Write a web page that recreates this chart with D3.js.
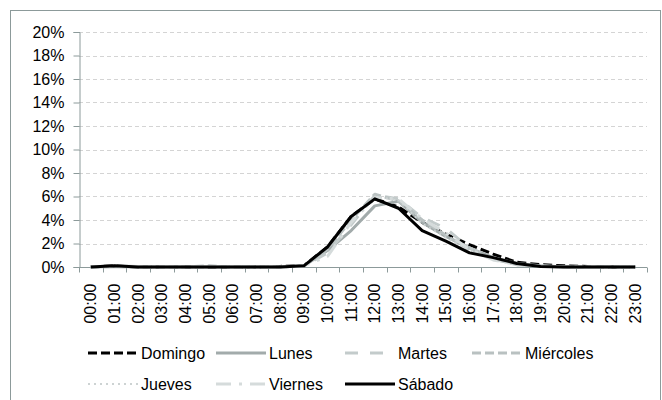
<!DOCTYPE html>
<html>
<head>
<meta charset="utf-8">
<script src="https://cdn.jsdelivr.net/npm/d3@7"></script>
<style>
  html, body { margin: 0; padding: 0; background: #fff; }
  svg { display: block; font-family: "Liberation Sans", Arial, sans-serif; }
</style>
</head>
<body>
<svg id="chart" width="662" height="400"></svg>
<script>
// Hourly share of activity per weekday
const hours = ["00:00","01:00","02:00","03:00","04:00","05:00","06:00","07:00","08:00","09:00","10:00","11:00",
               "12:00","13:00","14:00","15:00","16:00","17:00","18:00","19:00","20:00","21:00","22:00","23:00"];
const yTicks = [0, 0.02, 0.04, 0.06, 0.08, 0.10, 0.12, 0.14, 0.16, 0.18, 0.20];

const domingo   = [0,0.001,0,0,0,0,0,0,0.0005,0.001,0.017,0.043,0.058,0.051,0.038,0.028,0.019,0.011,0.004,0.002,0.001,0.0005,0,0];
const lunes     = [0,0.0005,0,0,0,0,0,0,0,0.001,0.014,0.031,0.052,0.056,0.038,0.026,0.016,0.008,0.003,0.001,0,0,0,0];
const martes    = [0,0.001,0,0,0,0,0.0005,0,0,0.001,0.012,0.036,0.061,0.058,0.042,0.033,0.016,0.007,0.002,0.001,0,0,0,0];
const miercoles = [0,0.0005,0,0,0,0.001,0,0,0,0.001,0.015,0.040,0.062,0.056,0.040,0.027,0.015,0.007,0.002,0.0005,0,0,0.0005,0];
const jueves    = [0,0.0005,0,0,0,0,0,0.0005,0,0.001,0.016,0.041,0.060,0.057,0.037,0.025,0.014,0.006,0.002,0.0005,0,0,0,0];
const viernes   = [0,0.001,0.0005,0,0,0,0,0,0,0.001,0.009,0.038,0.059,0.058,0.041,0.029,0.015,0.006,0.002,0.001,0,0,0,0];
const sabado    = [0,0.001,0,0,0,0,0,0,0,0.001,0.017,0.043,0.058,0.050,0.031,0.022,0.012,0.008,0.003,0.0005,0,0,0,0];

const seriesNames = ["Domingo","Lunes","Martes","Miércoles","Jueves","Viernes","Sábado"];
const seriesData  = [domingo, lunes, martes, miercoles, jueves, viernes, sabado];
const seriesStyle = [
  { color: "#000000", width: 3,   dash: "9,4" },
  { color: "#a2abab", width: 3,   dash: null },
  { color: "#c3cbcb", width: 3,   dash: "13,12" },
  { color: "#b9c1c1", width: 3,   dash: "9,4" },
  { color: "#cdd3d3", width: 2,   dash: "2,4" },
  { color: "#d5dbdb", width: 3,   dash: "15,8,3,8" },
  { color: "#000000", width: 3,   dash: null }
];

const svg = d3.select("#chart");

// outer frame
svg.append("rect")
  .attr("x", 10.5).attr("y", 10.5).attr("width", 650).attr("height", 400)
  .attr("fill", "none").attr("stroke", "#8c9a9a").attr("stroke-width", 1);

const plot = { left: 79, right: 647, top: 32, bottom: 267 };

const x = d3.scaleBand().domain(hours).range([plot.left, plot.right]);
const y = d3.scaleLinear().domain([0, 0.20]).range([plot.bottom, plot.top]);

// horizontal gridlines
svg.append("g").selectAll("line")
  .data(yTicks.filter(d => d > 0))
  .join("line")
  .attr("x1", plot.left).attr("x2", plot.right)
  .attr("y1", d => Math.round(y(d)) + 0.5).attr("y2", d => Math.round(y(d)) + 0.5)
  .attr("stroke", "#d4d4d4").attr("stroke-dasharray", "4,3");

// y axis
const yAxis = svg.append("g")
  .attr("transform", `translate(${plot.left + 0.5},0)`)
  .call(d3.axisLeft(y).tickValues(yTicks).tickFormat(d3.format(".0%")).tickSize(6).tickPadding(9));
yAxis.select(".domain").attr("stroke", "#8c9a9a");
yAxis.selectAll(".tick line").attr("stroke", "#8c9a9a");
yAxis.selectAll("text").attr("font-size", 16).attr("fill", "#000")
  .attr("font-family", "Liberation Sans, Arial, sans-serif");

// x axis with ticks between categories
const xAxisG = svg.append("g").attr("transform", `translate(0,${plot.bottom + 0.5})`);
xAxisG.append("line")
  .attr("x1", plot.left).attr("x2", plot.right)
  .attr("stroke", "#8c9a9a");
const boundaries = d3.range(hours.length + 1).map(i => plot.left + i * x.step());
xAxisG.selectAll("line.tk").data(boundaries).join("line")
  .attr("class", "tk")
  .attr("x1", d => Math.round(d) + 0.5).attr("x2", d => Math.round(d) + 0.5)
  .attr("y1", 0).attr("y2", 5)
  .attr("stroke", "#8c9a9a");
xAxisG.selectAll("text").data(hours).join("text")
  .attr("transform", d => `translate(${x(d) + x.bandwidth() / 2 + 5.5},16) rotate(-90)`)
  .attr("text-anchor", "end")
  .attr("font-size", 16)
  .attr("fill", "#000")
  .text(d => d);

// series lines
const line = d3.line()
  .x((d, i) => x(hours[i]) + x.bandwidth() / 2)
  .y(d => y(d));

svg.append("g").selectAll("path")
  .data(seriesData)
  .join("path")
  .attr("d", d => line(d))
  .attr("fill", "none")
  .attr("stroke", (d, i) => seriesStyle[i].color)
  .attr("stroke-width", (d, i) => seriesStyle[i].width)
  .attr("stroke-dasharray", (d, i) => seriesStyle[i].dash)
  .attr("stroke-linejoin", "round");

// legend: two rows, four columns
const legendCols = [88, 216, 345, 472];
const legendRows = [353, 384];
const legend = svg.append("g").selectAll("g")
  .data(seriesNames)
  .join("g")
  .attr("transform", (d, i) => `translate(${legendCols[i % 4]},${legendRows[Math.floor(i / 4)]})`);
legend.append("line")
  .attr("x1", 0).attr("x2", 50)
  .attr("y1", 0).attr("y2", 0)
  .attr("stroke", (d, i) => seriesStyle[i].color)
  .attr("stroke-width", (d, i) => seriesStyle[i].width)
  .attr("stroke-dasharray", (d, i) => seriesStyle[i].dash);
legend.append("text")
  .attr("x", 53)
  .attr("y", 6)
  .attr("font-size", 16)
  .attr("fill", "#000")
  .text(d => d);
</script>
</body>
</html>
